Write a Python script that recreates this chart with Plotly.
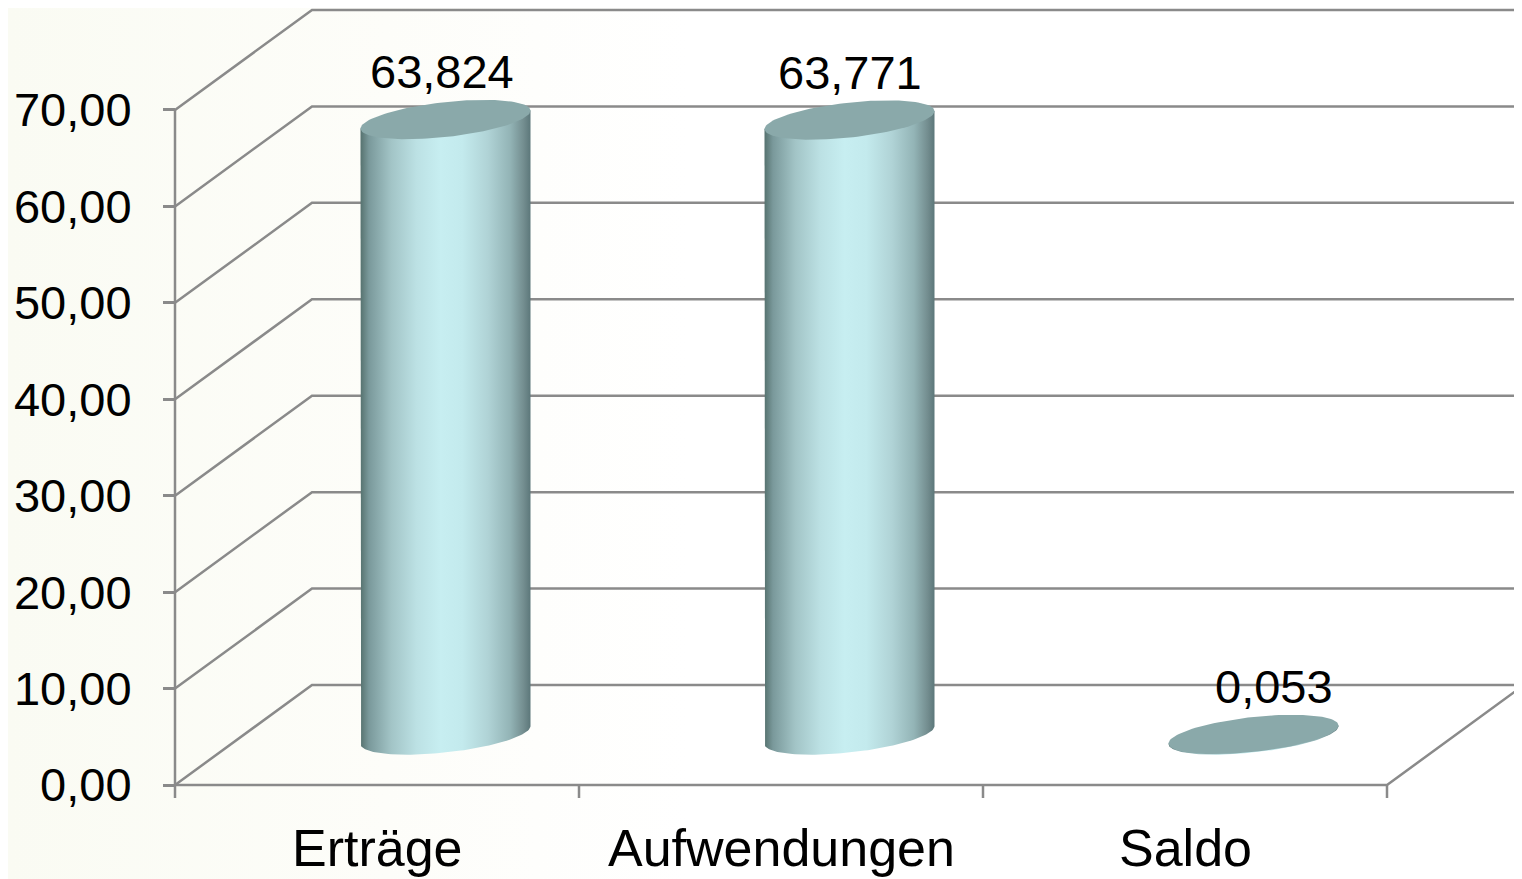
import numpy as np
import plotly.graph_objects as go

# ---------------- data ----------------
categories = ["Erträge", "Aufwendungen", "Saldo"]
values = [63.824, 63.771, 0.053]
value_labels = ["63,824", "63,771", "0,053"]
tick_values = [0, 10, 20, 30, 40, 50, 60, 70]
tick_labels = ["0,00", "10,00", "20,00", "30,00", "40,00", "50,00", "60,00", "70,00"]

# ---------------- geometry / style ----------------
PAGE_OFF = 8                      # default body margin of the html page
W, H = 1522 - PAGE_OFF, 879 - PAGE_OFF
PX_X = 404.0                      # pixels per category
PX_Y = 9.643                      # pixels per value unit
X0_PX, Y0_PX = 175 - PAGE_OFF, 785 - PAGE_OFF
x_range = [-X0_PX / PX_X, (W - X0_PX) / PX_X]
y_range = [-(H - Y0_PX) / PX_Y, Y0_PX / PX_Y]

DX = 137 / PX_X       # depth offset (x)
DY = 100 / PX_Y       # depth offset (y)
n = len(categories)
GRID = "#8a8a8a"
FONT = "Liberation Sans, Arial, sans-serif"

R = 85 / PX_X         # cylinder radius (x units)
B = 17.5 / PX_Y       # ellipse half height
K = 9 / PX_Y          # ellipse tilt (shear)

label_xshift = [-4, 0, 20]

fig = go.Figure()

# background gradient
fig.add_trace(go.Scatter(
    x=[x_range[0], x_range[1], x_range[1], x_range[0], x_range[0]],
    y=[y_range[0], y_range[0], y_range[1], y_range[1], y_range[0]],
    mode="lines", line=dict(width=0), fill="toself",
    fillgradient=dict(type="horizontal",
                      colorscale=[[0, "#fafbf3"], [0.25, "#fdfdf9"], [0.45, "#ffffff"], [1, "#ffffff"]]),
    hoverinfo="skip", showlegend=False))

# grid / walls / floor
gx, gy = [], []
for v in tick_values:
    gx += [0, DX, n + DX, None]
    gy += [v, v + DY, v + DY, None]
gx += [0, n, n + DX, None]
gy += [0, 0, DY, None]
gx += [0, 0, None]
gy += [0, max(tick_values), None]
for i in range(n + 1):
    gx += [i, i, None]
    gy += [0, -13 / PX_Y, None]
fig.add_trace(go.Scatter(x=gx, y=gy, mode="lines", line=dict(color=GRID, width=2.5),
                         hoverinfo="skip", showlegend=False))

body_scale = [[0, "#56726f"], [0.05, "#7a999b"], [0.18, "#a2c4c6"], [0.33, "#bce1e4"],
              [0.47, "#c7eef1"], [0.6, "#c3eaed"], [0.75, "#b0d3d6"], [0.88, "#93b4b6"],
              [0.96, "#738d8f"], [1, "#5c777a"]]

for i, v in enumerate(values):
    cx = i + 0.5 + DX / 2
    yb = DY / 2
    yt = yb + v
    t = np.linspace(np.pi, 2 * np.pi, 80)
    bx = cx + R * np.cos(t)
    by = yb + B * np.sin(t) + K * np.cos(t)
    body_x = [cx - R] + list(bx) + [cx + R, cx - R]
    body_y = [yt - K] + list(by) + [yt + K, yt - K]
    fig.add_trace(go.Scatter(x=body_x, y=body_y, mode="lines", line=dict(width=0),
                             fill="toself",
                             fillgradient=dict(type="horizontal", colorscale=body_scale),
                             hoverinfo="skip", showlegend=False))
    tt = np.linspace(0, 2 * np.pi, 120)
    fig.add_trace(go.Scatter(x=cx + R * np.cos(tt), y=yt + B * np.sin(tt) + K * np.cos(tt),
                             mode="lines", line=dict(width=0), fill="toself",
                             fillcolor="#8aa9aa", hoverinfo="skip", showlegend=False))
    fig.add_annotation(x=cx, y=yt + 48 / PX_Y, text=value_labels[i], showarrow=False,
                       xanchor="center", yanchor="middle", xshift=label_xshift[i],
                       font=dict(family=FONT, size=47, color="black"))

for i, c in enumerate(categories):
    fig.add_annotation(x=i + 0.5, y=-63 / PX_Y, text=c, showarrow=False,
                       xanchor="center", yanchor="middle",
                       font=dict(family=FONT, size=52, color="black"))

fig.update_layout(
    width=W, height=H,
    margin=dict(l=0, r=0, t=0, b=0),
    paper_bgcolor="#ffffff", plot_bgcolor="#ffffff",
    showlegend=False,
    xaxis=dict(range=x_range, visible=False, fixedrange=True),
    yaxis=dict(range=y_range, anchor="free", position=X0_PX / W, side="left",
               tickmode="array", tickvals=tick_values, ticktext=tick_labels,
               ticks="outside", ticklen=12, tickwidth=2.5, tickcolor=GRID,
               ticklabelstandoff=22,
               tickfont=dict(family=FONT, size=47, color="black"),
               showgrid=False, zeroline=False, showline=False, fixedrange=True),
)

fig.write_html("out.html")
